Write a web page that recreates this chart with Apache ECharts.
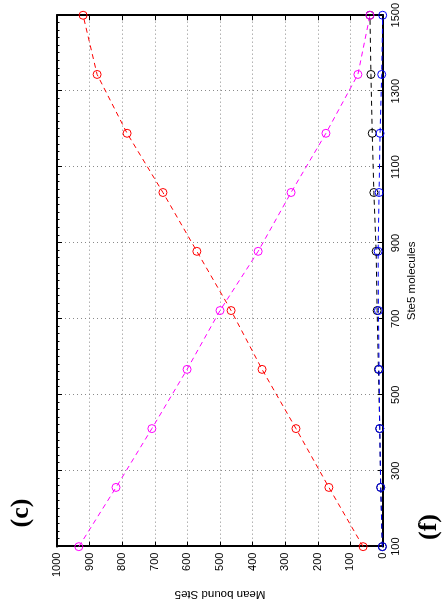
<!DOCTYPE html>
<html>
<head>
<meta charset="utf-8">
<script src="https://cdn.jsdelivr.net/npm/echarts/dist/echarts.min.js"></script>
<style>
  html, body { margin: 0; padding: 0; width: 446px; height: 608px; overflow: hidden; background: #fff; }
  /* The figure is laid out landscape and turned a quarter turn counter-clockwise. */
  #chart {
    position: absolute; left: 0; top: 0;
    width: 608px; height: 446px;
    transform-origin: 0 0;
    transform: translate(0, 608px) rotate(-90deg);
  }
</style>
</head>
<body>
<div id="chart"></div>
<script>
// Total Ste5 molecules in the cell
const ste5Molecules = [100, 256, 411, 567, 722, 878, 1033, 1189, 1344, 1500];
// Mean bound Ste5 for each species
const boundRed     = [61, 166, 267, 371, 466, 571, 675, 785, 877, 920];
const boundMagenta = [933, 819, 709, 601, 500, 383, 282, 175, 77, 40];
const boundBlack   = [2, 7, 10, 14, 18, 21, 28, 33, 37, 40];
const boundBlue    = [2, 7, 10, 12, 14, 15, 12, 9, 4, 1];

const xTicks = { min: 100, max: 1500, interval: 200 };
const yTicks = { min: 0, max: 1000, interval: 100 };

const pairs = ys => ste5Molecules.map((x, i) => [x, ys[i]]);

const FONT = '"Liberation Sans", Arial, Helvetica, sans-serif';
const gridLine = { show: true, lineStyle: { color: '#8a8a8a', type: [1, 3], width: 1 } };
const axisLine = { show: true, onZero: false, lineStyle: { color: '#000', width: 2 } };
const tickIn = { show: true, inside: true, length: 5, lineStyle: { color: '#000', width: 1 } };
const plain = v => String(v);

function lineSeries(name, ys, color) {
  return {
    name, type: 'line', data: pairs(ys),
    symbol: 'circle', symbolSize: 8, clip: false,
    lineStyle: { color, width: 1, type: [5, 4] },
    itemStyle: { color: 'rgba(0,0,0,0)', borderColor: color, borderWidth: 1 },
    emphasis: { disabled: true }, animation: false
  };
}

const chart = echarts.init(document.getElementById('chart'), null, { renderer: 'canvas' });
chart.setOption({
  animation: false,
  backgroundColor: '#fff',
  textStyle: { fontFamily: FONT },
  grid: { left: 59, right: 15, top: 57, bottom: 63 },
  xAxis: [
    {
      type: 'value', position: 'bottom', ...xTicks,
      name: 'Ste5 molecules', nameLocation: 'middle', nameGap: 23,
      nameTextStyle: { fontSize: 11.5, color: '#000', fontFamily: FONT },
      axisLine, axisTick: tickIn,
      axisLabel: { color: '#000', fontSize: 11, margin: 7, fontFamily: FONT, formatter: plain },
      splitLine: gridLine
    },
    {
      type: 'value', position: 'top', ...xTicks,
      axisLine, axisTick: tickIn,
      minorTick: { show: true, splitNumber: 10, length: 2.5, lineStyle: { color: '#000', width: 1 } },
      axisLabel: { show: false }, splitLine: { show: false }
    }
  ],
  yAxis: [
    {
      type: 'value', position: 'left', ...yTicks,
      name: 'Mean bound Ste5', nameLocation: 'middle', nameGap: 35,
      nameTextStyle: { fontSize: 11.5, color: '#000', fontFamily: FONT },
      axisLine, axisTick: tickIn,
      axisLabel: { color: '#000', fontSize: 11, margin: 6, fontFamily: FONT, formatter: plain },
      splitLine: gridLine
    },
    {
      type: 'value', position: 'right', ...yTicks,
      axisLine, axisTick: tickIn,
      axisLabel: { show: false }, splitLine: { show: false }
    }
  ],
  series: [
    lineSeries('red', boundRed, '#ff0000'),
    lineSeries('black', boundBlack, '#000000'),
    lineSeries('magenta', boundMagenta, '#ff00ff'),
    lineSeries('blue', boundBlue, '#0000ff')
  ],
  graphic: [
    { type: 'text', x: 95, y: 21, style: { text: '(c)', font: 'bold 26px "Liberation Serif", "Times New Roman", serif', fill: '#000', textAlign: 'center', textVerticalAlign: 'middle' } },
    { type: 'text', x: 81, y: 429, style: { text: '(f)', font: 'bold 26px "Liberation Serif", "Times New Roman", serif', fill: '#000', textAlign: 'center', textVerticalAlign: 'middle' } }
  ]
});
</script>
</body>
</html>
